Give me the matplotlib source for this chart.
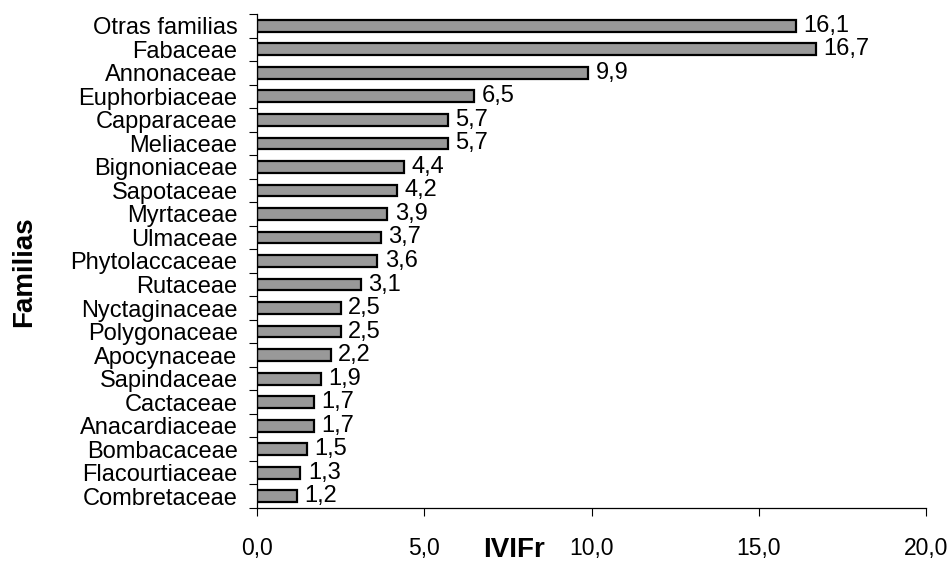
import matplotlib
matplotlib.use("Agg")
import matplotlib.pyplot as plt
import numpy as np

plt.rcParams['font.family'] = ['Liberation Sans', 'DejaVu Sans']

familias = ["Otras familias", "Fabaceae", "Annonaceae", "Euphorbiaceae", "Capparaceae",
            "Meliaceae", "Bignoniaceae", "Sapotaceae", "Myrtaceae", "Ulmaceae",
            "Phytolaccaceae", "Rutaceae", "Nyctaginaceae", "Polygonaceae", "Apocynaceae",
            "Sapindaceae", "Cactaceae", "Anacardiaceae", "Bombacaceae", "Flacourtiaceae",
            "Combretaceae"]
ivifr = [16.1, 16.7, 9.9, 6.5, 5.7, 5.7, 4.4, 4.2, 3.9, 3.7, 3.6, 3.1, 2.5, 2.5,
         2.2, 1.9, 1.7, 1.7, 1.5, 1.3, 1.2]
xticks = [0, 5, 10, 15, 20]

fig = plt.figure(figsize=(9.53, 5.62), dpi=100)
ax = fig.add_axes([257/953, 1 - 508/562, (926-257)/953, (508-14)/562])

n = len(familias)
y = np.arange(n)[::-1]
ax.barh(y, ivifr, height=0.5, color="#999999", edgecolor="black", linewidth=1.6)

for yi, v in zip(y, ivifr):
    ax.text(v + 0.22, yi, f"{v:.1f}".replace(".", ","), va="center", ha="left", fontsize=17)

ax.set_xlim(0, 20)
ax.set_ylim(-0.5, n - 0.5)
ax.set_xticks(xticks)
ax.set_xticklabels([f"{t:.1f}".replace(".", ",") for t in xticks], fontsize=16.5)
ax.tick_params(axis="x", length=6, pad=15, width=0.8)

ax.set_yticks(y)
ax.set_yticklabels(familias, fontsize=17)
ax.set_yticks(np.arange(n + 1) - 0.5, minor=True)
ax.tick_params(axis="y", which="major", length=0, pad=14)
ax.tick_params(axis="y", which="minor", length=6, width=0.8)

for s in ["top", "right"]:
    ax.spines[s].set_visible(False)
for s in ["left", "bottom"]:
    ax.spines[s].set_linewidth(0.9)

fig.text(514/953, 1 - 550/562, "IVIFr", fontsize=20, fontweight="bold", ha="center", va="center")
fig.text(24/953, 1 - 272/562, "Familias", fontsize=20, fontweight="bold", ha="center",
         va="center", rotation=90)

fig.savefig("out.png", dpi=100)
